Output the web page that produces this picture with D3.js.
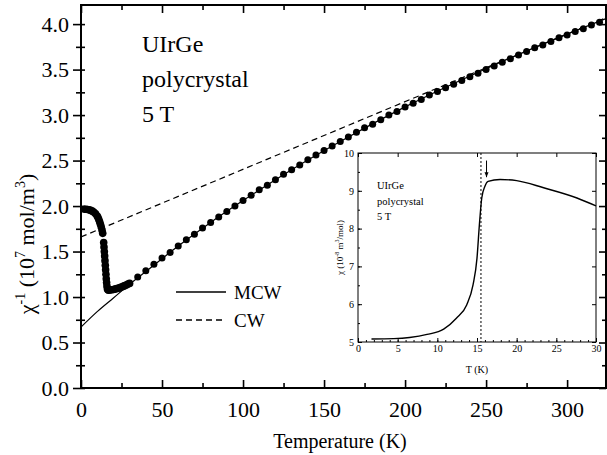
<!DOCTYPE html>
<html><head><meta charset="utf-8">
<script src="https://cdn.jsdelivr.net/npm/d3@7"></script>
<style>
body{margin:0;background:#fff}
svg{display:block}
text{font-family:"Liberation Serif","Times New Roman",serif;fill:#000}
</style>
</head><body>
<svg id="c" width="607" height="455"></svg>
<script>
// ---------- data ----------
const lowT   = [2,3,4,5,6,7,8,9,10,10.5,11,11.5,12,12.5,13,13.4,
                14,14.2,14.4,14.6,14.8,15,15.2,15.4,15.6,15.8,16,16.3,16.6,
                17,18,19,20,21,22,23,24,25,26,27,28,29,30];
const lowChi = [1.965,1.965,1.962,1.958,1.952,1.944,1.932,1.915,1.89,1.873,1.852,1.828,1.80,1.77,1.735,1.70,
                1.60,1.55,1.50,1.45,1.40,1.35,1.30,1.25,1.20,1.16,1.12,1.09,1.08,
                1.075,1.077,1.08,1.083,1.087,1.092,1.097,1.103,1.11,1.117,1.125,1.133,1.142,1.15];
const highT   = [35,40,45,50,55,60,65,70,75,80,85,90,95,100,105,110,115,120,125,130,135,140,145,150,
                 155,160,165,170,175,180,185,190,195,200,205,210,215,220,225,230,235,240,245,250,
                 255,260,265,270,275,280,285,290,295,300,305,310,315,320];
const highChi = [1.22,1.29,1.36,1.43,1.49,1.56,1.63,1.69,1.76,1.82,1.88,1.94,2.00,2.06,2.12,2.18,2.23,2.29,2.35,2.40,2.45,2.51,2.56,2.61,
                 2.66,2.71,2.76,2.81,2.86,2.90,2.95,3.00,3.04,3.09,3.13,3.17,3.22,3.26,3.30,3.34,3.38,3.42,3.46,3.50,
                 3.54,3.58,3.62,3.66,3.70,3.74,3.77,3.81,3.85,3.88,3.92,3.95,3.99,4.02];
const mcwT   = [0,10,20,30,40,60,80,100,130,160,200,250,300,324];
const mcwChi = [0.67,0.84,0.99,1.14,1.28,1.56,1.82,2.06,2.40,2.71,3.09,3.51,3.89,4.06];
const cwT    = [0,324];
const cwChi  = [1.66,4.07];

const insetT   = [1.7,4.5,6.5,8.7,10.8,12.4,13.7,14.5,15.0,15.3,15.6,16.0,16.4,17.9,20.0,23.4,27.6,30];
const insetChi = [5.08,5.09,5.12,5.2,5.34,5.63,5.98,6.51,7.22,8.10,8.81,9.12,9.25,9.30,9.27,9.08,8.81,8.60];
const transitionT = 15.5;
const arrowT = 16.2;
const arrowChi = [9.8, 9.36];

const mainXTicks = [0,50,100,150,200,250,300];
const mainXMinor = [25,75,125,175,225,275];
const mainYTicks = [0.0,0.5,1.0,1.5,2.0,2.5,3.0,3.5,4.0];
const mainYMinor = [0.25,0.75,1.25,1.75,2.25,2.75,3.25,3.75];
const insetXTicks = [0,5,10,15,20,25,30];
const insetYTicks = [5,6,7,8,9,10];
const legendLabels = ["MCW","CW"];
const sampleLines = ["UIrGe","polycrystal","5 T"];

// ---------- layout ----------
const svg = d3.select("#c");
const M = {l:81, r:606, t:5, b:388};
const x = d3.scaleLinear().domain([0,324]).range([M.l, M.r]);
const y = d3.scaleLinear().domain([0,4.21]).range([M.b, M.t]);

svg.append("defs").append("clipPath").attr("id","mclip")
  .append("rect").attr("x",M.l).attr("y",M.t).attr("width",M.r-M.l).attr("height",M.b-M.t);

svg.append("rect").attr("x",M.l).attr("y",M.t).attr("width",M.r-M.l).attr("height",M.b-M.t)
  .attr("fill","none").attr("stroke","#000").attr("stroke-width",2);

function styleAxis(g){ g.select(".domain").remove(); g.selectAll("line").attr("stroke","#000").attr("stroke-width",1.6); }
function styleText(g,fs){ g.selectAll("text").attr("font-size",fs).attr("font-family","Liberation Serif").attr("fill","#000"); }

// bottom axis
svg.append("g").attr("transform",`translate(0,${M.b})`)
  .call(d3.axisBottom(x).tickValues(mainXTicks).tickSizeInner(-8).tickSizeOuter(0).tickPadding(13).tickFormat(d3.format("d")))
  .call(styleAxis).call(g=>styleText(g,22));
svg.append("g").attr("transform",`translate(0,${M.b})`)
  .call(d3.axisBottom(x).tickValues(mainXMinor).tickSizeInner(-5).tickSizeOuter(0).tickFormat(""))
  .call(styleAxis);
// top axis
svg.append("g").attr("transform",`translate(0,${M.t})`)
  .call(d3.axisTop(x).tickValues(mainXTicks).tickSizeInner(-8).tickSizeOuter(0).tickFormat(""))
  .call(styleAxis);
svg.append("g").attr("transform",`translate(0,${M.t})`)
  .call(d3.axisTop(x).tickValues(mainXMinor).tickSizeInner(-5).tickSizeOuter(0).tickFormat(""))
  .call(styleAxis);
// left axis (ticks crossing the axis line)
svg.append("g").attr("transform",`translate(${M.l},0)`)
  .call(d3.axisLeft(y).tickValues(mainYTicks).tickSizeInner(8).tickSizeOuter(0).tickPadding(4).tickFormat(d3.format(".1f")))
  .call(styleAxis).call(g=>styleText(g,22));
svg.append("g").attr("transform",`translate(${M.l},0)`)
  .call(d3.axisLeft(y).tickValues(mainYMinor).tickSizeInner(5).tickSizeOuter(0).tickFormat(""))
  .call(styleAxis);
svg.append("g").attr("transform",`translate(${M.l},0)`)
  .call(d3.axisRight(y).tickValues(mainYTicks.concat(mainYMinor)).tickSizeInner(4).tickSizeOuter(0).tickFormat(""))
  .call(styleAxis);
// right axis
svg.append("g").attr("transform",`translate(${M.r},0)`)
  .call(d3.axisRight(y).tickValues(mainYTicks).tickSizeInner(-7).tickSizeOuter(0).tickFormat(""))
  .call(styleAxis);
svg.append("g").attr("transform",`translate(${M.r},0)`)
  .call(d3.axisRight(y).tickValues(mainYMinor).tickSizeInner(-4).tickSizeOuter(0).tickFormat(""))
  .call(styleAxis);

// axis titles
svg.append("text").attr("x",340).attr("y",448).attr("text-anchor","middle").attr("font-size",20).text("Temperature (K)");
const yt = svg.append("text").attr("transform","translate(34,244) rotate(-90)").attr("text-anchor","middle").attr("font-size",22);
yt.append("tspan").text("χ");
yt.append("tspan").attr("font-size",14).attr("dy",-9).text("-1");
yt.append("tspan").attr("dy",9).text(" (10");
yt.append("tspan").attr("font-size",14).attr("dy",-9).text("7");
yt.append("tspan").attr("dy",9).text(" mol/m");
yt.append("tspan").attr("font-size",14).attr("dy",-9).text("3");
yt.append("tspan").attr("dy",9).text(")");

// fit lines
const plot = svg.append("g").attr("clip-path","url(#mclip)");
const line = d3.line().x(d=>x(d[0])).y(d=>y(d[1])).curve(d3.curveMonotoneX);
plot.append("path").datum(mcwT.map((t,i)=>[t,mcwChi[i]])).attr("d",line)
  .attr("fill","none").attr("stroke","#000").attr("stroke-width",1.2);
plot.append("path").datum(cwT.map((t,i)=>[t,cwChi[i]])).attr("d",d3.line().x(d=>x(d[0])).y(d=>y(d[1])))
  .attr("fill","none").attr("stroke","#000").attr("stroke-width",1.2).attr("stroke-dasharray","6,4");

// data points
plot.selectAll("circle.lo").data(lowT.map((t,i)=>[t,lowChi[i]])).enter().append("circle")
  .attr("cx",d=>x(d[0])).attr("cy",d=>y(d[1])).attr("r",3.8).attr("fill","#000");
plot.selectAll("circle.hi").data(highT.map((t,i)=>[t,highChi[i]])).enter().append("circle")
  .attr("cx",d=>x(d[0])).attr("cy",d=>y(d[1])).attr("r",3.5).attr("fill","#000");

// sample text
svg.selectAll("text.sample").data(sampleLines).enter().append("text")
  .attr("x",142).attr("y",(d,i)=>52+i*35).attr("font-size",24).text(d=>d);

// legend
const lg = svg.append("g");
legendLabels.forEach((lab,i)=>{
  const ly = 292 + i*28;
  lg.append("line").attr("x1",176).attr("x2",226).attr("y1",ly).attr("y2",ly)
    .attr("stroke","#000").attr("stroke-width",1.4).attr("stroke-dasharray", i===1 ? "6,4" : null);
  lg.append("text").attr("x",234).attr("y",ly+7).attr("font-size",19).text(lab);
});

// ---------- inset ----------
const I = {l:358, r:596, t:153, b:342};
const ix = d3.scaleLinear().domain([0,30]).range([I.l,I.r]);
const iy = d3.scaleLinear().domain([5,10]).range([I.b,I.t]);
svg.append("rect").attr("x",I.l).attr("y",I.t).attr("width",I.r-I.l).attr("height",I.b-I.t)
  .attr("fill","#fff").attr("stroke","#000").attr("stroke-width",1);
function styleI(g){ g.select(".domain").remove(); g.selectAll("line").attr("stroke","#000").attr("stroke-width",1); }
svg.append("g").attr("transform",`translate(0,${I.b})`)
  .call(d3.axisBottom(ix).tickValues(insetXTicks).tickSizeInner(-4).tickSizeOuter(0).tickPadding(3))
  .call(styleI).call(g=>styleText(g,10));
svg.append("g").attr("transform",`translate(0,${I.b})`)
  .call(d3.axisBottom(ix).ticks(30).tickSizeInner(-2).tickSizeOuter(0).tickFormat(""))
  .call(styleI);
svg.append("g").attr("transform",`translate(0,${I.t})`)
  .call(d3.axisTop(ix).tickValues(insetXTicks).tickSizeInner(-4).tickSizeOuter(0).tickFormat(""))
  .call(styleI);
svg.append("g").attr("transform",`translate(${I.l},0)`)
  .call(d3.axisLeft(iy).tickValues(insetYTicks).tickSizeInner(-4).tickSizeOuter(0).tickPadding(4).tickFormat(d3.format("d")))
  .call(styleI).call(g=>styleText(g,10));
svg.append("g").attr("transform",`translate(${I.l},0)`)
  .call(d3.axisLeft(iy).ticks(10).tickSizeInner(-2).tickSizeOuter(0).tickFormat(""))
  .call(styleI);
svg.append("g").attr("transform",`translate(${I.r},0)`)
  .call(d3.axisRight(iy).tickValues(insetYTicks).tickSizeInner(-4).tickSizeOuter(0).tickFormat(""))
  .call(styleI);

svg.append("text").attr("x",(I.l+I.r)/2).attr("y",373).attr("text-anchor","middle").attr("font-size",10).text("T (K)");
const iyt = svg.append("text").attr("transform",`translate(343,${(I.t+I.b)/2}) rotate(-90)`).attr("text-anchor","middle").attr("font-size",9);
iyt.append("tspan").text("χ (10");
iyt.append("tspan").attr("font-size",6).attr("dy",-4).text("-8");
iyt.append("tspan").attr("dy",4).text(" m");
iyt.append("tspan").attr("font-size",6).attr("dy",-4).text("3");
iyt.append("tspan").attr("dy",4).text("/mol)");

svg.append("path").datum(insetT.map((t,i)=>[t,insetChi[i]]))
  .attr("d",d3.line().x(d=>ix(d[0])).y(d=>iy(d[1])).curve(d3.curveMonotoneX))
  .attr("fill","none").attr("stroke","#000").attr("stroke-width",1.4);
svg.append("line").attr("x1",ix(transitionT)).attr("x2",ix(transitionT)).attr("y1",I.t).attr("y2",I.b)
  .attr("stroke","#000").attr("stroke-width",1).attr("stroke-dasharray","2,2");
svg.append("line").attr("x1",ix(arrowT)).attr("x2",ix(arrowT)).attr("y1",iy(arrowChi[0])).attr("y2",iy(arrowChi[1]))
  .attr("stroke","#000").attr("stroke-width",1);
svg.append("path").attr("d",`M${ix(arrowT)-2},${iy(arrowChi[1])-5}L${ix(arrowT)},${iy(arrowChi[1])}L${ix(arrowT)+2},${iy(arrowChi[1])-5}Z`)
  .attr("fill","#000");

svg.selectAll("text.isample").data(sampleLines).enter().append("text")
  .attr("x",377).attr("y",(d,i)=>189+i*15.5).attr("font-size",10.5).text(d=>d);
</script>
</body></html>
